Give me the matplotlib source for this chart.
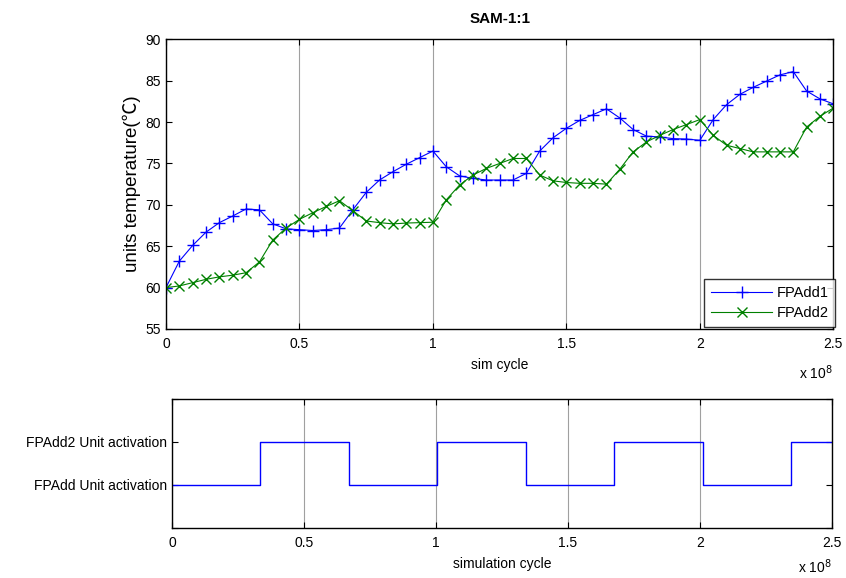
import numpy as np
import matplotlib
matplotlib.use('Agg')
import matplotlib.pyplot as plt
from matplotlib.ticker import FuncFormatter

plt.rcParams['font.family'] = ['Liberation Sans', 'Noto Sans CJK SC', 'DejaVu Sans']

# sample points every 5e6 cycles
cycles = np.arange(51) * 5e6

fpadd1 = [60.0, 63.2, 65.1, 66.7, 67.85, 68.65, 69.5, 69.4, 67.7, 67.1,
          67.0, 66.9, 67.0, 67.2, 69.4, 71.5, 73.0, 74.0, 74.9, 75.7,
          76.5, 74.6, 73.5, 73.2, 73.0, 73.0, 73.0, 73.8, 76.5, 78.1,
          79.25, 80.2, 80.9, 81.6, 80.5, 79.1, 78.3, 78.2, 78.0, 77.95,
          77.8, 80.3, 82.1, 83.35, 84.2, 84.95, 85.7, 86.1, 83.75, 82.8,
          82.2]
fpadd2 = [60.0, 60.2, 60.6, 61.0, 61.3, 61.5, 61.8, 63.1, 65.75, 67.2,
          68.25, 69.05, 69.8, 70.5, 69.3, 68.05, 67.85, 67.7, 67.8, 67.85,
          67.9, 70.6, 72.4, 73.6, 74.4, 75.0, 75.6, 75.6, 73.6, 72.9,
          72.7, 72.6, 72.6, 72.5, 74.3, 76.4, 77.6, 78.4, 79.1, 79.7,
          80.3, 78.4, 77.2, 76.8, 76.4, 76.4, 76.4, 76.4, 79.4, 80.7,
          81.7]

# unit activation switch points (cycles) and state (1 = FPAdd, 2 = FPAdd2)
switch_x = [0, 0.335e8, 0.67e8, 1.005e8, 1.34e8, 1.675e8, 2.01e8, 2.345e8, 2.5e8]
switch_state = [1, 2, 1, 2, 1, 2, 1, 2, 2]
act_labels = ['', 'FPAdd Unit activation', 'FPAdd2 Unit activation', '']

fig = plt.figure(figsize=(8.46, 5.78), dpi=100)
ax1 = fig.add_axes([0.1962, 0.4308, 0.7888, 0.5012])
ax2 = fig.add_axes([0.2033, 0.0865, 0.7802, 0.2232])

fmt = FuncFormatter(lambda v, p: ('%g' % (v / 1e8)))

ax1.plot(cycles, fpadd1, color='#0000ff', marker='+', markersize=9, linewidth=0.8, label='FPAdd1')
ax1.plot(cycles, fpadd2, color='#008000', marker='x', markersize=6.5, linewidth=0.8, label='FPAdd2')
ax1.set_xlim(0, 2.5e8)
ax1.set_ylim(55, 90)
ax1.set_yticks(np.arange(55, 91, 5))
ax1.set_title('SAM-1:1', fontsize=11, fontweight='bold', pad=12)
ax1.set_xlabel('sim cycle', fontsize=10, labelpad=5)
ax1.set_ylabel('units temperature(℃)', fontsize=13.5, labelpad=3)
leg = ax1.legend(loc='lower right', fontsize=10.5, frameon=True, fancybox=False,
                 bbox_to_anchor=(1.006, 0.0), borderaxespad=0.15, handlelength=4.2,
                 handletextpad=0.3, borderpad=0.45, labelspacing=0.45)
leg.get_frame().set_edgecolor('black')
leg.get_frame().set_linewidth(1.0)
ax1.text(1.0, -0.12, r'x 10$^{8}$', transform=ax1.transAxes, ha='right', va='top', fontsize=10)

ax2.step(switch_x, switch_state, where='post', color='#0000ff', linewidth=1.0)
ax2.set_xlim(0, 2.5e8)
ax2.set_ylim(0, 3)
ax2.set_yticks([0, 1, 2, 3])
ax2.set_yticklabels(act_labels)
ax2.set_xlabel('simulation cycle', fontsize=10, labelpad=5)
ax2.text(1.0, -0.23, r'x 10$^{8}$', transform=ax2.transAxes, ha='right', va='top', fontsize=10)

for ax in (ax1, ax2):
    ax.set_xticks(np.arange(0, 2.51e8, 0.5e8))
    ax.xaxis.set_major_formatter(fmt)
    ax.tick_params(direction='in', top=True, right=True, length=4, labelsize=10, width=0.8)
    ax.tick_params(axis='x', pad=6)
    ax.grid(True, axis='x', color='#a0a0a0', linewidth=0.8)
    for s in ax.spines.values():
        s.set_linewidth(1.0)

fig.savefig('out.png', dpi=100)
